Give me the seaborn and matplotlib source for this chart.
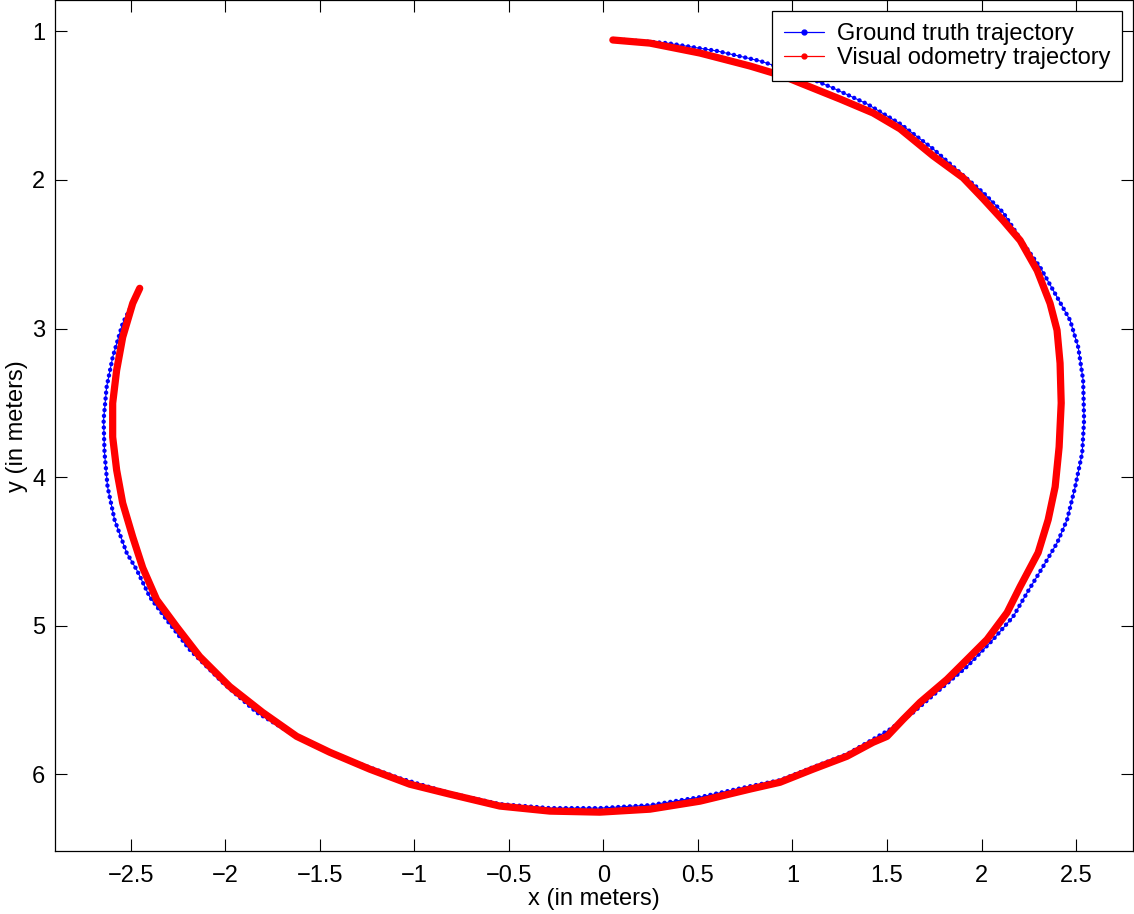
"""Ground truth vs. visual odometry trajectory (top view, y axis flipped)."""

import matplotlib.pyplot as plt
import pandas as pd
import seaborn as sns
from matplotlib.lines import Line2D

# ground truth trajectory (meters)
gt_x = [0.050, 0.336, 0.601, 0.828, 1.040, 1.214, 1.394, 1.569, 1.743, 1.886,
        2.008, 2.114, 2.220, 2.310, 2.400, 2.468, 2.511, 2.537, 2.542, 2.532,
        2.495, 2.452, 2.400, 2.325, 2.241, 2.167, 2.061, 1.923, 1.780, 1.638,
        1.516, 1.426, 1.288, 1.108, 0.934, 0.775, 0.511, 0.246, -0.019, -0.283,
        -0.548, -0.812, -1.077, -1.341, -1.516, -1.659, -1.833, -2.013, -2.188, -2.310,
        -2.399, -2.468, -2.521, -2.585, -2.622, -2.638, -2.643, -2.627, -2.595, -2.542,
        -2.489, -2.463]
gt_y = [1.052, 1.079, 1.132, 1.199, 1.287, 1.381, 1.488, 1.622, 1.790, 1.951,
        2.085, 2.219, 2.427, 2.588, 2.790, 2.944, 3.125, 3.347, 3.615, 3.837,
        4.065, 4.287, 4.441, 4.602, 4.777, 4.938, 5.092, 5.274, 5.428, 5.583,
        5.697, 5.764, 5.864, 5.952, 6.039, 6.080, 6.153, 6.207, 6.227, 6.227,
        6.200, 6.126, 6.026, 5.905, 5.811, 5.717, 5.583, 5.382, 5.160, 4.959,
        4.805, 4.623, 4.509, 4.287, 4.065, 3.837, 3.615, 3.394, 3.193, 2.965,
        2.830, 2.763]

# visual odometry estimate (meters)
vo_x = [0.050, 0.246, 0.511, 0.775, 0.950, 1.040, 1.251, 1.426, 1.569, 1.743,
        1.902, 2.008, 2.114, 2.204, 2.294, 2.362, 2.399, 2.415, 2.421, 2.410,
        2.389, 2.352, 2.299, 2.204, 2.135, 2.029, 1.923, 1.817, 1.675, 1.585,
        1.500, 1.426, 1.288, 1.108, 0.934, 0.775, 0.511, 0.246, -0.019, -0.283,
        -0.548, -0.812, -1.024, -1.235, -1.447, -1.622, -1.802, -1.976, -2.135, -2.257,
        -2.362, -2.436, -2.489, -2.542, -2.574, -2.595, -2.595, -2.574, -2.542, -2.489,
        -2.452]
vo_y = [1.058, 1.079, 1.146, 1.233, 1.300, 1.347, 1.455, 1.549, 1.656, 1.837,
        1.985, 2.126, 2.273, 2.407, 2.609, 2.830, 3.011, 3.233, 3.501, 3.797,
        4.065, 4.287, 4.508, 4.736, 4.911, 5.092, 5.227, 5.361, 5.515, 5.630,
        5.744, 5.784, 5.878, 5.965, 6.053, 6.099, 6.180, 6.234, 6.254, 6.247,
        6.213, 6.133, 6.066, 5.965, 5.851, 5.744, 5.583, 5.409, 5.207, 5.006,
        4.825, 4.610, 4.402, 4.174, 3.952, 3.730, 3.502, 3.280, 3.058, 2.830,
        2.729]

x_ticks = [-2.5, -2, -1.5, -1, -0.5, 0, 0.5, 1, 1.5, 2, 2.5]
x_tick_labels = ["\u22122.5", "\u22122", "\u22121.5", "\u22121", "\u22120.5",
                 "0", "0.5", "1", "1.5", "2", "2.5"]
y_ticks = [1, 2, 3, 4, 5, 6]

sns.set_theme(style="ticks")
plt.rcParams["font.family"] = ["Liberation Sans", "DejaVu Sans"]
plt.rcParams.update({"text.color": "black", "axes.labelcolor": "black",
                     "xtick.color": "black", "ytick.color": "black"})

gt = pd.DataFrame({"x": gt_x, "y": gt_y})
vo = pd.DataFrame({"x": vo_x, "y": vo_y})

fig = plt.figure(figsize=(11.34, 9.14), dpi=100)
ax = fig.add_axes([0.0485, 0.069, 0.9505, 0.9305])

# ground truth: thin line plus a dense row of dots
sns.lineplot(data=gt, x="x", y="y", sort=False, estimator=None, ax=ax,
             color="#0000ff", linewidth=0.8)
sns.lineplot(data=gt, x="x", y="y", sort=False, estimator=None, ax=ax,
             color="#0000ff", linewidth=3.2, linestyle=(0, (0.01, 1.3)),
             dash_capstyle="round")
# visual odometry: heavy red trace
sns.lineplot(data=vo, x="x", y="y", sort=False, estimator=None, ax=ax,
             color="#ff0000", linewidth=5.2, solid_capstyle="round",
             solid_joinstyle="round")

ax.set_xlim(-2.9, 2.8)
ax.set_ylim(6.515, 0.792)
ax.set_xticks(x_ticks)
ax.set_xticklabels(x_tick_labels)
ax.set_yticks(y_ticks)
ax.set_xlabel("x (in meters)", fontsize=17, labelpad=1)
ax.set_ylabel("y (in meters)", fontsize=17, labelpad=3)
ax.tick_params(direction="in", length=8.5, width=0.8, labelsize=17,
               top=True, right=True, color="black", labelcolor="black")
ax.tick_params(axis="x", pad=10)
ax.tick_params(axis="y", pad=7)
for spine in ax.spines.values():
    spine.set_visible(True)
    spine.set_linewidth(0.9)
    spine.set_color("black")

handles = [
    Line2D([], [], color="#0000ff", linewidth=0.9, marker=".", markersize=7),
    Line2D([], [], color="#ff0000", linewidth=0.9, marker=".", markersize=7),
]
leg = ax.legend(handles, ["Ground truth trajectory", "Visual odometry trajectory"],
                loc="upper right", fontsize=17, fancybox=False, framealpha=1,
                edgecolor="black", borderaxespad=0.45, handlelength=1.7,
                borderpad=0.5, labelspacing=0.1, handletextpad=0.55)
leg.get_frame().set_linewidth(0.9)

fig.savefig("out.png", dpi=100)
